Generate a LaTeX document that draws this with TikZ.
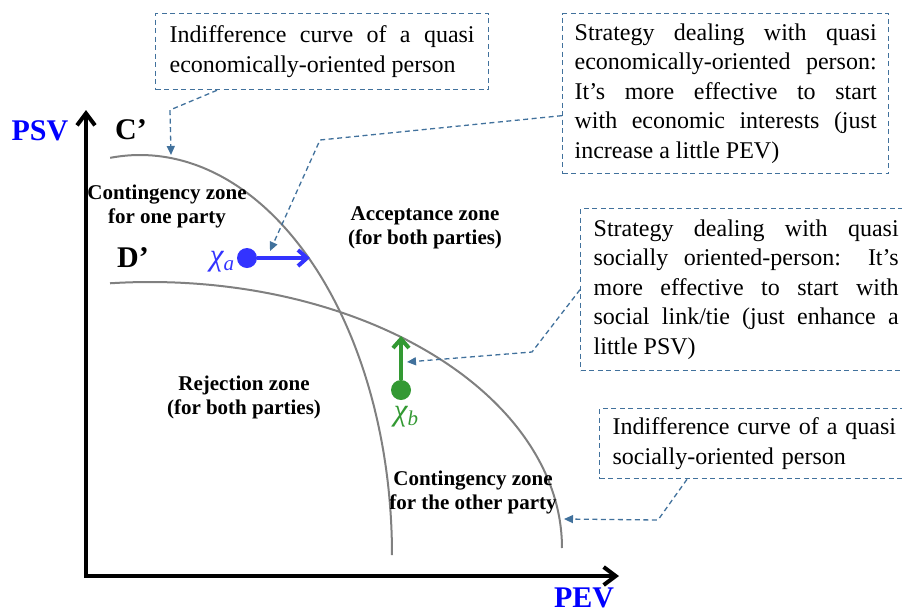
\documentclass[tikz,border=0pt]{standalone}
\usepackage{fontspec}
\setmainfont{Liberation Serif}
\usetikzlibrary{arrows.meta,calc}
\definecolor{boxblue}{RGB}{65,113,156}
\definecolor{curvegrey}{RGB}{128,128,128}
\definecolor{chiblue}{RGB}{51,51,255}
\definecolor{chigreen}{RGB}{51,153,51}
\definecolor{labblue}{RGB}{0,0,255}
\hyphenpenalty=10000
\exhyphenpenalty=10000
\begin{document}
\begin{tikzpicture}[x=1pt,y=-1pt,
  note/.style={draw=boxblue, dash pattern=on 5pt off 3.5pt, line width=1.3pt, anchor=north west,
    align=justify, font=\fontsize{24}{29.5}\selectfont, inner ysep=4pt},
  zone/.style={font=\bfseries\fontsize{21}{24}\selectfont, align=center},
  leader/.style={draw=boxblue, dash pattern=on 5pt off 3.5pt, line width=1.3pt,
    -{Triangle[length=9pt,width=8pt]}},
  indiff/.style={curvegrey, line width=2pt},
  axis/.style={line width=4pt, line join=miter, {Straight Barb[length=12pt,width=18pt]}-{Straight Barb[length=12pt,width=18pt]}},
  biglab/.style={font=\bfseries\fontsize{30}{30}\selectfont},
  dot/.style={circle, minimum size=20pt, inner sep=0pt},
  move/.style={line width=4pt, -{Straight Barb[length=9pt,width=16pt]}},
  chilab/.style={font=\itshape\fontsize{31}{31}\selectfont},
]
\useasboundingbox (0,0) rectangle (902,611);

% axes
\coordinate (O) at (86,576);
\coordinate (ytip) at (86,110);
\coordinate (xtip) at (619,576);
\draw[axis] (ytip) -- (O) -- (xtip);
\node[biglab, text=labblue] (psv) at (40,131) {PSV};
\node[biglab, text=labblue, anchor=base, inner sep=0pt] (pev) at (584,607) {PEV};
\node[biglab] (cl) at (131,130) {C’};
\node[biglab] (dl) at (133,258) {D’};

% indifference curves
\draw[indiff] plot[domain=96.8:0, samples=80, smooth] ({140+252*cos(\x)}, {555-400*sin(\x)});
\draw[indiff] plot[domain=95.57:0, samples=80, smooth] ({150+412*cos(\x)}, {548-266*sin(\x)});

% points on curves
\coordinate (cC1) at (171,155);
\coordinate (cCa) at (310,258);
\coordinate (cDb) at (401,336);
\coordinate (cD2) at (564,519);

% zone labels
\node[zone] (z1) at (167,206) {Contingency zone\\for one party};
\node[zone] (z2) at (425,228) {Acceptance zone\\(for both parties)};
\node[zone] (z3) at (244,397) {Rejection zone\\(for both parties)};
\node[zone] (z4) at (473,492) {Contingency zone\\for the other party};

% chi a
\node[dot, fill=chiblue] (xa) at (247,258) {};
\draw[move, chiblue] (xa) -- (cCa);
\node[chilab, text=chiblue] (la) at (222,262) {χ\raisebox{-5pt}{\fontsize{21}{21}\selectfont a}};

% chi b
\node[dot, fill=chigreen] (xb) at (401,390) {};
\draw[move, chigreen] (xb) -- (cDb);
\node[chilab, text=chigreen] (lb) at (406,417) {χ\raisebox{-5pt}{\fontsize{21}{21}\selectfont b}};

% note boxes
\node[note, text width=305pt, inner xsep=14pt, minimum height=76pt] (b1) at (155,13)
  {Indifference curve of a quasi\linebreak economically-oriented person};
\node[note, text width=302pt, inner xsep=12pt, minimum height=160pt] (b2) at (562,13)
  {Strategy dealing with quasi\linebreak economically-oriented person:\linebreak It’s more effective to start\linebreak with economic interests (just\linebreak increase a little PEV)};
\node[note, text width=305pt, inner xsep=13pt, minimum height=162pt] (b3) at (580,208)
  {Strategy dealing with quasi\linebreak socially oriented-person: It’s\linebreak more effective to start with\linebreak social link/tie (just enhance a\linebreak little PSV)};
\node[note, text width=300pt, inner xsep=13pt, minimum height=70pt, align=left] (b4) at (599,408)
  {Indifference curve of a quasi\\socially-oriented person};

% leaders
\draw[leader] ([xshift=62pt]b1.south west) -- (170,110) -- (cC1);
\draw[leader] ([yshift=-22pt]b2.west) -- (320,140) -- (270,251);
\draw[leader] (b3.west) -- (532,352) -- (407,362);
\draw[leader] ([xshift=88pt]b4.south west) -- (658,520) -- (cD2);
\end{tikzpicture}
\end{document}
